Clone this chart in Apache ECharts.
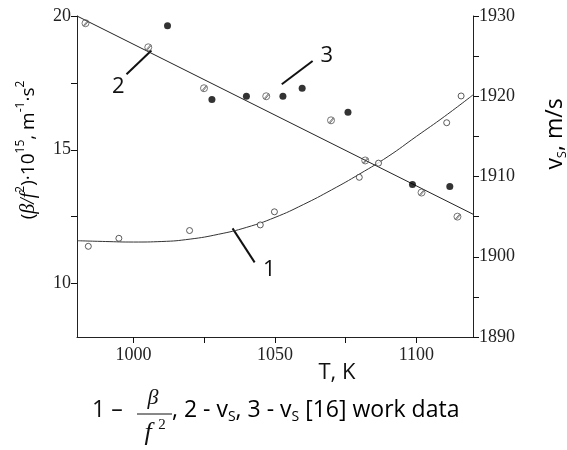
<!DOCTYPE html>
<html>
<head>
<meta charset="utf-8">
<script src="https://cdn.jsdelivr.net/npm/echarts@6/dist/echarts.min.js"></script>
<style>html,body{margin:0;padding:0;background:#fff}#c{width:567px;height:450px}</style>
</head>
<body>
<div id="c"></div>
<script>
// Series 1: beta/f^2 (x1e15), left axis, open circles
var s1T = [984.0, 994.8, 1019.8, 1044.8, 1049.8, 1079.8, 1086.6, 1110.7, 1115.8];
var s1V = [11.39, 11.69, 11.98, 12.19, 12.68, 13.97, 14.50, 16.01, 17.01];
// Fit curve 1
var fit1T = [980, 990, 1000, 1010, 1020, 1030, 1040, 1050, 1060, 1070, 1080, 1090, 1100, 1110, 1120];
var fit1V = [11.6, 11.57, 11.55, 11.57, 11.66, 11.84, 12.1, 12.47, 12.95, 13.5, 14.1, 14.75, 15.5, 16.25, 17.05];
// Series 2: vS, right axis, crossed circles
var s2T = [983.0, 1005.2, 1024.9, 1046.9, 1069.8, 1081.9, 1101.8, 1114.5];
var s2V = [1929.1, 1926.1, 1921.0, 1920.0, 1917.0, 1912.0, 1908.0, 1905.0];
// Fit line 2
var fit2T = [980, 1120];
var fit2V = [1930.0, 1905.3];
// Series 3: vS [16], right axis, filled dots
var s3T = [1012.0, 1027.7, 1039.9, 1052.8, 1059.6, 1075.8, 1098.6, 1111.8];
var s3V = [1928.8, 1919.6, 1920.0, 1920.0, 1921.0, 1918.0, 1909.0, 1908.75];

// Axis ticks / labels
var xTicks = [1000, 1025, 1050, 1075, 1100];
var xLabels = [1000, 1050, 1100];
var yLTicks = [10, 12.5, 15, 17.5, 20];
var yLLabels = [10, 15, 20];
var yRLabels = [1890, 1900, 1910, 1920, 1930];

// Annotation leader lines in data units: [T0, v0, T1, v1, textT, textV, axisIndex, label]
var ann = [
  [1035.0, 12.06, 1042.8, 10.79, 1048.0, 10.53, 0, '1'],
  [1006.3, 1925.7, 997.5, 1922.75, 994.6, 1921.2, 1, '2'],
  [1052.4, 1921.5, 1063.3, 1924.4, 1068.3, 1925.1, 1, '3']
];

function zip(a, b) { return a.map(function (v, i) { return [v, b[i]]; }); }
function plain(v) { return String(v); }

var serif = 'Liberation Serif';
var sans = 'Open Sans';
var axisCol = '#222';
var crossSym = 'path://M0,5A5,5 0 1,1 10,5A5,5 0 1,1 0,5Z M2,8.5L8,1.5 M3.2,9.3L9.2,2.3';

var chart = echarts.init(document.getElementById('c'), null, {renderer: 'canvas'});
var option = {
  animation: false,
  backgroundColor: '#fff',
  grid: {left: 77, right: 94, top: 16, bottom: 113},
  xAxis: {
    type: 'value', min: 980, max: 1120,
    axisLine: {show: true, lineStyle: {color: axisCol, width: 1}},
    axisTick: {show: true, customValues: xTicks, length: 6, lineStyle: {color: '#111', width: 1}},
    axisLabel: {customValues: xLabels, formatter: plain, fontFamily: serif, fontSize: 18, color: '#222', margin: 9},
    splitLine: {show: false}
  },
  yAxis: [{
    type: 'value', min: 8, max: 20, position: 'left',
    axisLine: {show: true, onZero: false, lineStyle: {color: axisCol, width: 1}},
    axisTick: {show: true, customValues: yLTicks, length: 6, lineStyle: {color: '#111', width: 1}},
    axisLabel: {customValues: yLLabels, formatter: plain, fontFamily: serif, fontSize: 18, color: '#222', margin: 6},
    splitLine: {show: false}
  }, {
    type: 'value', min: 1890, max: 1930, interval: 5, position: 'right',
    axisLine: {show: true, onZero: false, lineStyle: {color: axisCol, width: 1}},
    axisTick: {show: true, length: 6, lineStyle: {color: '#111', width: 1}},
    axisLabel: {customValues: yRLabels, formatter: plain, fontFamily: serif, fontSize: 18, color: '#222', margin: 6},
    splitLine: {show: false}
  }],
  series: [{
    type: 'line', yAxisIndex: 0, data: zip(fit1T, fit1V), smooth: true, showSymbol: false,
    lineStyle: {color: '#333', width: 1}, z: 2
  }, {
    type: 'scatter', yAxisIndex: 0, data: zip(s1T, s1V), symbol: 'circle', symbolSize: 6,
    itemStyle: {color: '#fff', borderColor: '#333', borderWidth: 1}, z: 3
  }, {
    type: 'line', yAxisIndex: 1, data: zip(fit2T, fit2V), showSymbol: false,
    lineStyle: {color: '#222', width: 1}, z: 2
  }, {
    type: 'scatter', yAxisIndex: 1, data: zip(s2T, s2V), symbol: crossSym, symbolSize: 7,
    itemStyle: {color: 'rgba(255,255,255,0)', borderColor: '#555', borderWidth: 1}, z: 3
  }, {
    type: 'scatter', yAxisIndex: 1, data: zip(s3T, s3V), symbol: 'circle', symbolSize: 7,
    itemStyle: {color: '#000'}, z: 3
  }]
};
chart.setOption(option);

function richSet(base, supSize) {
  return {
    n: {fontFamily: sans, fontSize: base, color: '#111', lineHeight: 28},
    i: {fontFamily: serif, fontStyle: 'italic', fontSize: base + 1, color: '#111', lineHeight: 28},
    sup: {fontFamily: sans, fontSize: supSize, color: '#111', lineHeight: 16, verticalAlign: 'top'},
    sub: {fontFamily: sans, fontSize: supSize, color: '#111', lineHeight: 14, verticalAlign: 'bottom'}
  };
}

var g = [];
ann.forEach(function (a) {
  var p0 = chart.convertToPixel({xAxisIndex: 0, yAxisIndex: a[6]}, [a[0], a[1]]);
  var p1 = chart.convertToPixel({xAxisIndex: 0, yAxisIndex: a[6]}, [a[2], a[3]]);
  var pt = chart.convertToPixel({xAxisIndex: 0, yAxisIndex: a[6]}, [a[4], a[5]]);
  g.push({type: 'line', shape: {x1: p0[0], y1: p0[1], x2: p1[0], y2: p1[1]}, style: {stroke: '#111', lineWidth: 2}});
  g.push({type: 'text', x: pt[0], y: pt[1], style: {text: a[7], fontFamily: sans, fontSize: 22, fill: '#111', align: 'center', verticalAlign: 'middle'}});
});
// Axis titles
g.push({type: 'text', x: 29, y: 150, rotation: Math.PI / 2,
  style: {text: '{n|(}{i|β/f}{sup|2}{n|)·10}{sup|15}{n|, m}{sup|-1}{n|·s}{sup|2}', rich: richSet(19, 12), align: 'center', verticalAlign: 'middle'}});
g.push({type: 'text', x: 555, y: 134, rotation: Math.PI / 2,
  style: {text: '{n|v}{sub|S}{n|, m/s}', rich: richSet(23, 13), align: 'center', verticalAlign: 'middle'}});
g.push({type: 'text', x: 337, y: 373,
  style: {text: 'T, K', fontFamily: sans, fontSize: 22, fill: '#111', align: 'center', verticalAlign: 'middle'}});
// Caption
g.push({type: 'text', x: 92, y: 410, style: {text: '1 –', fontFamily: sans, fontSize: 23, fill: '#111', align: 'left', verticalAlign: 'middle'}});
g.push({type: 'text', x: 153, y: 398, style: {text: 'β', fontFamily: serif, fontStyle: 'italic', fontSize: 22, fill: '#111', align: 'center', verticalAlign: 'middle'}});
g.push({type: 'line', shape: {x1: 137, y1: 414, x2: 172, y2: 414}, style: {stroke: '#111', lineWidth: 1}});
g.push({type: 'text', x: 148, y: 433, style: {text: 'f', fontFamily: serif, fontStyle: 'italic', fontSize: 26, fill: '#111', align: 'center', verticalAlign: 'middle'}});
g.push({type: 'text', x: 162, y: 425, style: {text: '2', fontFamily: serif, fontSize: 15, fill: '#111', align: 'center', verticalAlign: 'middle'}});
var capRich = richSet(23, 14);
g.push({type: 'text', x: 172, y: 410, style: {text: '{n|, 2 - v}{sub|S}{n|, 3 - v}{sub|S}{n| [16] work data}', rich: capRich, align: 'left', verticalAlign: 'middle'}});
chart.setOption({graphic: g});
</script>
</body>
</html>
